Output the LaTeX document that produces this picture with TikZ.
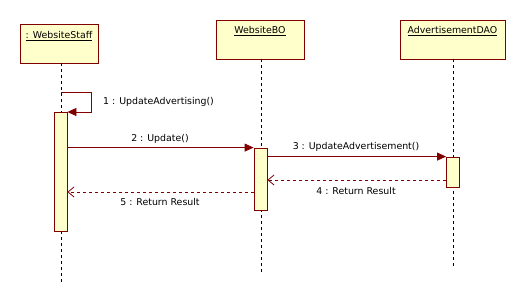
\documentclass[tikz,border=0pt]{standalone}
\usepackage{fontspec}
\setmainfont{DejaVu Sans}
\usetikzlibrary{arrows.meta}
\definecolor{umlred}{RGB}{128,0,0}
\definecolor{umlfill}{RGB}{255,255,204}
\begin{document}
\begin{tikzpicture}[x=1pt,y=-1pt,
  font=\fontsize{9.4}{11}\selectfont,
  objbox/.style={draw=umlred,fill=umlfill,line width=0.8pt,minimum height=39pt,inner sep=0pt},
  objname/.style={anchor=center,inner sep=0pt},
  actbar/.style={draw=umlred,fill=umlfill,line width=0.8pt,minimum width=13pt,inner sep=0pt},
  lifeline/.style={draw=black,line width=0.8pt,dash pattern=on 3pt off 3pt},
  callmsg/.style={draw=umlred,line width=0.8pt,-{Triangle[length=9pt,width=8pt]}},
  retmsg/.style={draw=umlred,line width=0.8pt,dash pattern=on 3pt off 3pt,-{Straight Barb[length=6pt,width=10pt,line width=0.8pt]}},
  msglabel/.style={inner sep=0pt}]
\useasboundingbox (0,0) rectangle (525,304);

% object heads
\node[objbox,minimum width=78pt] (staff) at (59,43.5) {};
\node[objname] (staffname) at (59,36) {\underline{: WebsiteStaff}};
\node[objbox,minimum width=88pt] (bo) at (260,39.5) {};
\node[objname] (boname) at (260,31) {\underline{WebsiteBO}};
\node[objbox,minimum width=105pt] (dao) at (452.5,39.5) {};
\node[objname] (daoname) at (452.5,31) {\underline{AdvertisementDAO}};

% lifeline ends
\coordinate (staffend) at (61,283);
\coordinate (boend) at (261,273);
\coordinate (daoend) at (453,267);
\draw[lifeline] (staff.south -| staffend) -- (staffend);
\draw[lifeline] (bo.south -| boend) -- (boend);
\draw[lifeline] (dao.south -| daoend) -- (daoend);

% activation bars
\node[actbar,minimum height=119pt] (act1) at (60.5,171.5) {};
\node[actbar,minimum height=62pt] (act2) at (260.5,179) {};
\node[actbar,minimum height=30pt] (act3) at (453,172) {};

% self call
\coordinate (selfa) at (61,92);
\coordinate (selfb) at (91,92);
\coordinate (selfc) at (91,112);
\draw[callmsg] (selfa) -- (selfb) -- (selfc) -- (selfc -| act1.east);
\node[msglabel,anchor=west] (m1) at (103,102) {1 : UpdateAdvertising()};

% calls
\draw[callmsg] (act1.east |- act2.north) -- (act2.north west);
\node[msglabel] (m2) at (160,139) {2 : Update()};
\draw[callmsg] (act2.east |- act3.north) -- (act3.north west);
\node[msglabel] (m3) at (356,147) {3 : UpdateAdvertisement()};

% returns
\coordinate (r4) at (447,180);
\draw[retmsg] (r4 -| act3.west) -- (r4 -| act2.east);
\node[msglabel] (m4) at (356,191) {4 : Return Result};
\coordinate (r5) at (254,192);
\draw[retmsg] (r5 -| act2.west) -- (r5 -| act1.east);
\node[msglabel] (m5) at (160,202) {5 : Return Result};
\end{tikzpicture}
\end{document}
